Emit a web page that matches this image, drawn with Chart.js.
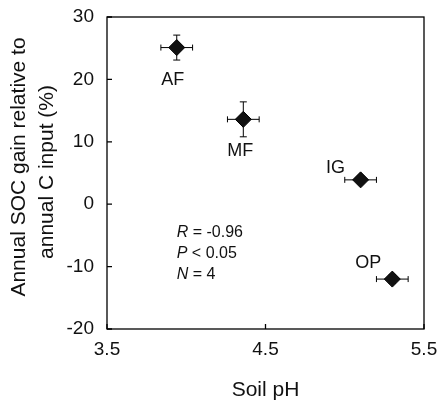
<!DOCTYPE html>
<html>
<head>
<meta charset="utf-8">
<script src="https://cdn.jsdelivr.net/npm/chart.js@4/dist/chart.umd.min.js"></script>
<style>
  html, body { margin: 0; padding: 0; background: #fff; }
  #wrap { width: 439px; height: 402px; }
</style>
</head>
<body>
<div id="wrap"><canvas id="chart"></canvas></div>
<script>
const sites = ["AF", "MF", "IG", "OP"];
const soilPH = [3.94, 4.36, 5.10, 5.30];
const phErr = [0.10, 0.10, 0.10, 0.10];
const socGain = [25.1, 13.6, 3.9, -12.0];
const socErr = [2.0, 2.8, 0.6, 0.7];
const xTicks = [3.5, 4.5, 5.5];
const yTicks = [-20, -10, 0, 10, 20, 30];
const yTitle = ["Annual SOC gain relative to", "annual C input (%)"];
const statLines = [["R", " = -0.96"], ["P", " < 0.05"], ["N", " = 4"]];

const FONT = "'Liberation Sans', Arial, sans-serif";

// error bars under the diamonds
const errorBars = {
  id: "errorBars",
  beforeDatasetsDraw(c) {
    const { ctx, scales: { x, y } } = c;
    ctx.save();
    ctx.strokeStyle = "#000";
    ctx.lineWidth = 1;
    soilPH.forEach((ph, i) => {
      const px = x.getPixelForValue(ph);
      const py = y.getPixelForValue(socGain[i]);
      const x0 = x.getPixelForValue(ph - phErr[i]);
      const x1 = x.getPixelForValue(ph + phErr[i]);
      const y0 = y.getPixelForValue(socGain[i] - socErr[i]);
      const y1 = y.getPixelForValue(socGain[i] + socErr[i]);
      ctx.beginPath();
      ctx.moveTo(x0, py); ctx.lineTo(x1, py);
      ctx.moveTo(x0, py - 3); ctx.lineTo(x0, py + 3);
      ctx.moveTo(x1, py - 3); ctx.lineTo(x1, py + 3);
      ctx.moveTo(px, y0); ctx.lineTo(px, y1);
      ctx.moveTo(px - 3.5, y0); ctx.lineTo(px + 3.5, y0);
      ctx.moveTo(px - 3.5, y1); ctx.lineTo(px + 3.5, y1);
      ctx.stroke();
    });
    ctx.restore();
  }
};

// box frame, inward ticks, point labels, y title and stats text
const frame = {
  id: "frame",
  afterDraw(c) {
    const { ctx, chartArea: a, scales: { x, y } } = c;
    ctx.save();
    ctx.strokeStyle = "#000";
    ctx.lineWidth = 1.3;
    ctx.strokeRect(a.left, a.top, a.right - a.left, a.bottom - a.top);
    ctx.beginPath();
    yTicks.forEach(v => {
      const py = y.getPixelForValue(v);
      ctx.moveTo(a.left, py); ctx.lineTo(a.left + 5, py);
    });
    xTicks.forEach(v => {
      const px = x.getPixelForValue(v);
      ctx.moveTo(px, a.bottom); ctx.lineTo(px, a.bottom - 5);
    });
    ctx.stroke();

    ctx.fillStyle = "#111";
    ctx.font = "18px " + FONT;
    ctx.textAlign = "center";
    ctx.textBaseline = "middle";
    const off = [[-4, 32], [-3, 32], [-25, -12], [-24, -16]];
    sites.forEach((s, i) => {
      const px = x.getPixelForValue(soilPH[i]);
      const py = y.getPixelForValue(socGain[i]);
      ctx.fillText(s, px + off[i][0], py + off[i][1]);
    });

    // y axis title, two lines
    ctx.font = "21px " + FONT;
    [[19, 167], [47, 172]].forEach(([tx, ty], i) => {
      ctx.save();
      ctx.translate(tx, ty);
      ctx.rotate(-Math.PI / 2);
      ctx.fillText(yTitle[i], 0, 0);
      ctx.restore();
    });

    ctx.textAlign = "left";
    const sx = x.getPixelForValue(3.94);
    let sy = y.getPixelForValue(-4.6);
    statLines.forEach(([v, rest]) => {
      ctx.font = "italic 16px " + FONT;
      ctx.fillText(v, sx, sy);
      const w = ctx.measureText(v).width;
      ctx.font = "16px " + FONT;
      ctx.fillText(rest, sx + w, sy);
      sy += 21;
    });
    ctx.restore();
  }
};

new Chart(document.getElementById("chart"), {
  type: "scatter",
  data: {
    labels: sites,
    datasets: [{
      data: soilPH.map((v, i) => ({ x: v, y: socGain[i] })),
      pointStyle: "rectRot",
      radius: 8,
      hoverRadius: 8,
      backgroundColor: "#111",
      borderColor: "#000",
      borderWidth: 1
    }]
  },
  options: {
    responsive: true,
    maintainAspectRatio: false,
    animation: false,
    layout: { padding: { top: 17, right: 15, left: 0, bottom: 0 } },
    plugins: { legend: { display: false }, tooltip: { enabled: false } },
    scales: {
      x: {
        type: "linear",
        min: 3.5, max: 5.5,
        afterBuildTicks: s => { s.ticks = xTicks.map(v => ({ value: v })); },
        afterFit: s => { s.height = 73; s.paddingLeft = 0; s.paddingRight = 0; },
        grid: { display: false, drawTicks: false },
        border: { display: false },
        ticks: {
          color: "#111",
          font: { family: FONT, size: 19 },
          padding: 9,
          maxRotation: 0,
          callback: v => v.toFixed(1)
        },
        title: {
          display: true,
          text: "Soil pH",
          color: "#111",
          font: { family: FONT, size: 21, lineHeight: 1.14 },
          padding: { top: 0, bottom: 0 }
        }
      },
      y: {
        min: -20, max: 30,
        afterBuildTicks: s => { s.ticks = yTicks.map(v => ({ value: v })); },
        afterFit: s => { s.width = 107; s.paddingTop = 0; s.paddingBottom = 0; },
        grid: { display: false, drawTicks: false },
        border: { display: false },
        ticks: {
          color: "#111",
          font: { family: FONT, size: 19 },
          padding: 13
        }
      }
    }
  },
  plugins: [errorBars, frame]
});
</script>
</body>
</html>
